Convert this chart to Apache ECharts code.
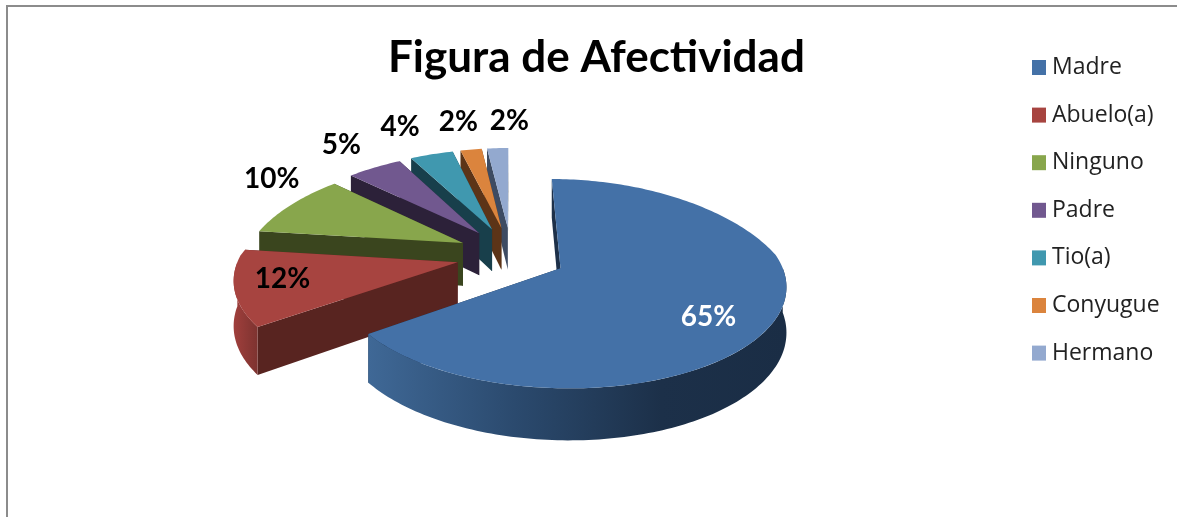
<!DOCTYPE html>
<html><head><meta charset="utf-8">
<script src="https://cdn.jsdelivr.net/npm/echarts@6/dist/echarts.min.js"></script>
<style>html,body{margin:0;padding:0;background:#fff}#c{width:1177px;height:517px}</style>
</head><body><div id="c"></div>
<script>
const categories = ['Madre','Abuelo(a)','Ninguno','Padre','Tio(a)','Conyugue','Hermano'];
const values = [65,12,10,5,4,2,2];
const topColors = ['#4471a7','#a74440','#88a64c','#71588f','#4098af','#db843d','#93a9cf'];
const cutColors = ['#1d3049','#582420','#3a451e','#2c2139','#183f4b','#5c3417','#3d4b62'];
// projection of the tilted, exploded pie
const view = {cx:511, cy:255, rx:218, ry:98.5, persp:0.145, perspBackX:0.22, depth:43.5, ex:0.25, ey:0.29};
// label placement: fraction of radius along the slice middle, then a pixel nudge
const labelLayout = [[0.75,-11,12],[0.72,-16,-2],[1.15,4,-21],[1.15,-20,-14],[1.15,-24,-18],[1.15,-9,-17],[1.15,13,-17]];

const total = values.reduce((a,b)=>a+b,0);
function project(u,v,drop){
  const d = 1 - view.persp*v;
  const dx = v<0 ? 1 - view.perspBackX*v : d;
  return [view.cx + view.rx*u/dx, view.cy + view.ry*v/d + (drop ? view.depth/d : 0)];
}
function renderSlice(i){
  let before = 0;
  for(let k=0;k<i;k++) before += values[k];
  const a0 = before/total*2*Math.PI, a1 = (before+values[i])/total*2*Math.PI, am=(a0+a1)/2;
  const ou = view.ex*Math.sin(am), ov = -view.ey*Math.cos(am);
  const rim = (a,drop)=>project(ou+Math.sin(a), ov-Math.cos(a), drop);
  const apex = drop=>project(ou,ov,drop);
  const arc = (from,to,drop)=>{
    const n = Math.max(2,Math.ceil((to-from)/0.02)), pts=[];
    for(let s=0;s<=n;s++) pts.push(rim(from+(to-from)*s/n,drop));
    return pts;
  };
  const poly=(points,fill)=>({type:'polygon',shape:{points},style:{fill,stroke:null}});
  const children=[
    poly([apex(false),rim(a1,false),rim(a1,true),apex(true)],cutColors[i]),
    poly([apex(false),rim(a0,false),rim(a0,true),apex(true)],cutColors[i])
  ];
  const w0=Math.max(a0,Math.PI/2), w1=Math.min(a1,Math.PI*1.5);
  if(w1>w0){
    const wall=arc(w0,w1,false).concat(arc(w0,w1,true).reverse());
    const fill = i===0
      ? {type:'linear',x:0,y:0,x2:1,y2:0,colorStops:[
          {offset:0,color:'#3f6896'},{offset:0.35,color:'#2b4a6e'},{offset:0.7,color:'#1c3049'},{offset:1,color:'#1a2d45'}]}
      : {type:'linear',x:0,y:0,x2:1,y2:0,colorStops:[
          {offset:0,color:'#a03f3c'},{offset:1,color:'#7d3330'}]};
    children.push(poly(wall,fill));
  }
  children.push(poly([apex(false)].concat(arc(a0,a1,false)),topColors[i]));
  const lay=labelLayout[i];
  const lp=project(ou+lay[0]*Math.sin(am),ov-lay[0]*Math.cos(am),false);
  children.push({type:'text',style:{
    text:Math.round(values[i]/total*100)+'%',x:lp[0]+lay[1],y:lp[1]+lay[2],
    fill:i===0?'#ffffff':'#000000',font:'bold 28px Lato',align:'center',verticalAlign:'middle'}});
  return {type:'group',children};
}
const drawOrder=[6,5,4,3,2,1,0];
const series=drawOrder.map((i,idx)=>({
  type:'custom',name:categories[i],coordinateSystem:'none',z:2+idx,silent:true,
  itemStyle:{color:topColors[i]},data:[values[i]],
  renderItem:()=>renderSlice(i)
}));
const chart=echarts.init(document.getElementById('c'),null,{renderer:'canvas'});
chart.setOption({
  backgroundColor:'#ffffff',animation:false,
  title:{text:'Figura de Afectividad',left:388,top:36,padding:0,
    textStyle:{fontFamily:'Lato',fontWeight:'bold',fontSize:44,color:'#000'}},
  legend:{orient:'vertical',left:1032,top:56,padding:0,itemWidth:14,itemHeight:15,itemGap:24.6,icon:'rect',
    data:categories,selectedMode:false,
    textStyle:{fontFamily:'Open Sans',fontSize:23,color:'#222',padding:[0,0,0,1]}},
  graphic:[
    {type:'rect',silent:true,shape:{x:6,y:5,width:1171,height:2},style:{fill:'#8c8c8c'}},
    {type:'rect',silent:true,shape:{x:6,y:5,width:2,height:512},style:{fill:'#8c8c8c'}}
  ],
  series
});
</script></body></html>
